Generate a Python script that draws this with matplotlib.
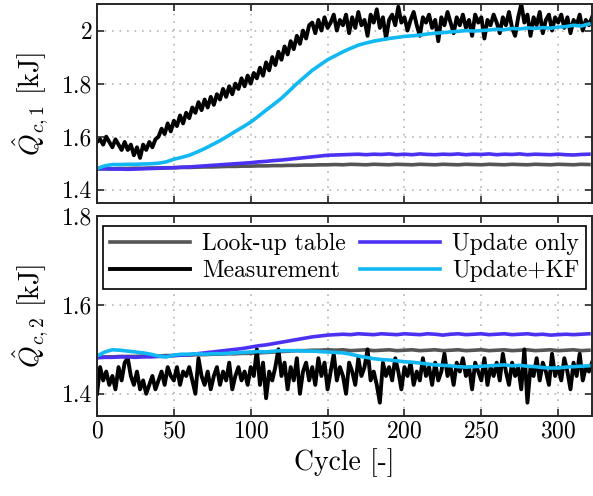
import numpy as np
import matplotlib
matplotlib.use('Agg')
import matplotlib.pyplot as plt

plt.rcParams['font.family'] = 'serif'
plt.rcParams['font.serif'] = ['cmr10']
plt.rcParams['mathtext.fontset'] = 'cm'
plt.rcParams['axes.formatter.use_mathtext'] = True

# cycles for the noisy measurement (every 2) and smooth estimates (every 5)
cyc_meas = np.arange(0, 324, 2)
cyc_est = np.arange(0, 325, 5)

# top panel, Q_c,1 [kJ]
meas1 = [1.58, 1.59, 1.57, 1.60, 1.58, 1.56, 1.59, 1.57, 1.55, 1.58,
         1.55, 1.57, 1.53, 1.56, 1.52, 1.57, 1.55, 1.58, 1.56, 1.59,
         1.60, 1.63, 1.61, 1.65, 1.62, 1.66, 1.64, 1.68, 1.65, 1.69,
         1.67, 1.71, 1.69, 1.73, 1.70, 1.74, 1.71, 1.75, 1.72, 1.76,
         1.74, 1.78, 1.75, 1.79, 1.76, 1.80, 1.78, 1.82, 1.79, 1.83,
         1.80, 1.84, 1.82, 1.86, 1.83, 1.88, 1.85, 1.90, 1.87, 1.92,
         1.89, 1.94, 1.91, 1.96, 1.93, 1.98, 1.95, 2.00, 1.97, 2.02,
         2.03, 1.99, 2.04, 2.00, 2.05, 2.01, 2.03, 2.06, 2.00, 2.04,
         2.02, 2.06, 1.99, 2.05, 2.01, 2.07, 2.02, 2.04, 1.98, 2.06,
         2.03, 2.08, 2.01, 2.05, 1.97, 2.04, 2.06, 2.02, 2.09, 2.03,
         2.05, 2.00, 2.04, 2.07, 2.02, 1.98, 2.05, 2.03, 2.06, 2.01,
         2.04, 1.96, 2.05, 2.02, 2.07, 2.03, 1.99, 2.05, 2.02, 2.06,
         2.01, 2.04, 1.98, 2.06, 2.03, 2.05, 1.97, 2.04, 2.02, 2.06,
         2.03, 1.99, 2.05, 2.02, 2.07, 2.01, 1.98, 2.05, 2.10, 2.03,
         2.06, 1.98, 2.05, 2.02, 2.07, 1.99, 2.04, 2.06, 2.00, 2.05,
         2.03, 2.06, 2.01, 2.05, 1.99, 2.04, 2.02, 2.06, 2.00, 2.04,
         2.02, 2.05]
lut1 = [1.478, 1.479, 1.479, 1.480, 1.480, 1.481, 1.481, 1.482, 1.482, 1.483,
        1.483, 1.484, 1.484, 1.485, 1.486, 1.486, 1.487, 1.488, 1.488, 1.489,
        1.489, 1.490, 1.490, 1.491, 1.491, 1.492, 1.492, 1.493, 1.493, 1.494,
        1.494, 1.495, 1.494, 1.496, 1.495, 1.494, 1.496, 1.495, 1.494, 1.496,
        1.495, 1.494, 1.496, 1.495, 1.494, 1.496, 1.495, 1.494, 1.496, 1.495,
        1.494, 1.496, 1.495, 1.494, 1.496, 1.495, 1.494, 1.496, 1.495, 1.494,
        1.496, 1.495, 1.494, 1.496, 1.495]
upd1 = [1.480, 1.479, 1.478, 1.478, 1.477, 1.478, 1.479, 1.480, 1.481, 1.482,
        1.483, 1.485, 1.486, 1.488, 1.490, 1.492, 1.494, 1.496, 1.498, 1.500,
        1.502, 1.505, 1.507, 1.510, 1.512, 1.515, 1.518, 1.521, 1.524, 1.527,
        1.530, 1.531, 1.532, 1.533, 1.534, 1.532, 1.534, 1.533, 1.535, 1.532,
        1.534, 1.532, 1.535, 1.533, 1.532, 1.534, 1.533, 1.535, 1.532, 1.534,
        1.533, 1.535, 1.532, 1.534, 1.533, 1.535, 1.532, 1.534, 1.533, 1.532,
        1.534, 1.532, 1.531, 1.533, 1.534]
kf1 = [1.480, 1.490, 1.495, 1.495, 1.496, 1.496, 1.497, 1.498, 1.500, 1.505,
       1.515, 1.522, 1.530, 1.542, 1.555, 1.570, 1.585, 1.602, 1.620, 1.637,
       1.655, 1.677, 1.700, 1.722, 1.745, 1.772, 1.800, 1.825, 1.850, 1.870,
       1.890, 1.905, 1.920, 1.933, 1.945, 1.953, 1.960, 1.965, 1.970, 1.974,
       1.978, 1.980, 1.983, 1.987, 1.990, 1.992, 1.995, 1.997, 2.000, 1.998,
       2.000, 2.002, 2.005, 2.003, 2.008, 2.006, 2.010, 2.008, 2.011, 2.009,
       2.013, 2.015, 2.020, 2.017, 2.025]

# bottom panel, Q_c,2 [kJ]
meas2 = [1.40, 1.46, 1.43, 1.45, 1.42, 1.44, 1.41, 1.46, 1.43, 1.47,
         1.48, 1.44, 1.42, 1.45, 1.41, 1.43, 1.40, 1.42, 1.44, 1.41,
         1.43, 1.45, 1.42, 1.46, 1.44, 1.43, 1.46, 1.42, 1.45, 1.44,
         1.46, 1.43, 1.40, 1.48, 1.44, 1.42, 1.45, 1.41, 1.44, 1.46,
         1.42, 1.45, 1.43, 1.47, 1.41, 1.44, 1.46, 1.43, 1.45, 1.42,
         1.46, 1.44, 1.50, 1.42, 1.47, 1.39, 1.45, 1.43, 1.46, 1.50,
         1.44, 1.47, 1.41, 1.46, 1.43, 1.48, 1.40, 1.45, 1.47, 1.43,
         1.46, 1.42, 1.48, 1.44, 1.47, 1.41, 1.45, 1.49, 1.43, 1.46,
         1.44, 1.40, 1.47, 1.45, 1.42, 1.48, 1.44, 1.46, 1.50, 1.43,
         1.45, 1.42, 1.38, 1.47, 1.44, 1.46, 1.43, 1.48, 1.45, 1.41,
         1.46, 1.44, 1.47, 1.42, 1.45, 1.43, 1.48, 1.44, 1.46, 1.42,
         1.47, 1.43, 1.45, 1.49, 1.44, 1.46, 1.42, 1.47, 1.45, 1.48,
         1.44, 1.46, 1.41, 1.47, 1.45, 1.43, 1.48, 1.42, 1.46, 1.44,
         1.47, 1.43, 1.49, 1.45, 1.42, 1.47, 1.44, 1.46, 1.41, 1.50,
         1.38, 1.46, 1.44, 1.48, 1.43, 1.47, 1.45, 1.42, 1.49, 1.44,
         1.46, 1.43, 1.48, 1.45, 1.41, 1.47, 1.44, 1.49, 1.43, 1.46,
         1.45, 1.47]
lut2 = [1.482, 1.483, 1.483, 1.484, 1.484, 1.484, 1.485, 1.485, 1.485, 1.486,
        1.486, 1.487, 1.487, 1.488, 1.488, 1.489, 1.489, 1.490, 1.490, 1.491,
        1.491, 1.492, 1.493, 1.494, 1.495, 1.496, 1.497, 1.497, 1.498, 1.498,
        1.499, 1.498, 1.499, 1.497, 1.498, 1.499, 1.497, 1.498, 1.499, 1.497,
        1.498, 1.499, 1.497, 1.498, 1.499, 1.497, 1.498, 1.499, 1.497, 1.498,
        1.499, 1.497, 1.498, 1.499, 1.497, 1.498, 1.499, 1.497, 1.498, 1.499,
        1.497, 1.498, 1.499, 1.497, 1.498]
upd2 = [1.481, 1.482, 1.482, 1.483, 1.483, 1.482, 1.483, 1.483, 1.484, 1.484,
        1.486, 1.487, 1.488, 1.490, 1.492, 1.494, 1.496, 1.498, 1.500, 1.502,
        1.505, 1.508, 1.510, 1.513, 1.516, 1.519, 1.522, 1.525, 1.528, 1.530,
        1.532, 1.533, 1.534, 1.533, 1.535, 1.534, 1.533, 1.535, 1.534, 1.533,
        1.535, 1.534, 1.533, 1.535, 1.534, 1.532, 1.534, 1.535, 1.533, 1.534,
        1.535, 1.533, 1.534, 1.535, 1.533, 1.534, 1.535, 1.533, 1.534, 1.532,
        1.533, 1.534, 1.533, 1.534, 1.535]
kf2 = [1.485, 1.494, 1.499, 1.498, 1.496, 1.494, 1.492, 1.489, 1.485, 1.483,
       1.487, 1.489, 1.489, 1.490, 1.489, 1.490, 1.490, 1.491, 1.492, 1.493,
       1.494, 1.495, 1.494, 1.496, 1.497, 1.497, 1.497, 1.496, 1.496, 1.495,
       1.494, 1.493, 1.492, 1.489, 1.485, 1.482, 1.479, 1.477, 1.476, 1.474,
       1.472, 1.471, 1.469, 1.467, 1.465, 1.464, 1.463, 1.461, 1.460, 1.461,
       1.462, 1.463, 1.464, 1.465, 1.463, 1.464, 1.462, 1.461, 1.459, 1.458,
       1.458, 1.460, 1.461, 1.462, 1.463]

c_lut = '#555555'
c_meas = 'black'
c_upd = '#4b32f2'
c_kf = '#12b8f2'
fs = 17

fig = plt.figure(figsize=(5.93, 4.96), dpi=100)
ax1 = fig.add_axes([0.1636, 0.5907, 0.8347, 0.4012])
ax2 = fig.add_axes([0.1636, 0.1613, 0.8347, 0.4032])

for ax, meas, lut, upd, kf in [(ax1, meas1, lut1, upd1, kf1),
                               (ax2, meas2, lut2, upd2, kf2)]:
    ax.plot(cyc_est, lut, color=c_lut, lw=2.6, label='Look-up table')
    ax.plot(cyc_meas, meas, color=c_meas, lw=2.8, label='Measurement')
    ax.plot(cyc_est, upd, color=c_upd, lw=2.6, label='Update only')
    ax.plot(cyc_est, kf, color=c_kf, lw=2.6, label='Update+KF')
    ax.set_xlim(0, 322)
    ax.set_xticks(np.arange(0, 301, 50))
    ax.grid(True, color='#b5b5b5', ls=(0, (1, 3.5)), lw=1.2)
    ax.tick_params(direction='in', top=True, right=True, length=5,
                   width=1.2, labelsize=fs, color='#262626')
    for sp in ax.spines.values():
        sp.set_linewidth(1.4)
        sp.set_color('#262626')

ax1.set_ylim(1.35, 2.1)
ax1.set_yticks([1.4, 1.6, 1.8, 2.0])
ax1.set_yticklabels(['1.4', '1.6', '1.8', '2'])
ax1.set_xticklabels([])
ax1.set_ylabel(r'$\hat{Q}_{c,1}$ [kJ]', fontsize=20, labelpad=8)

ax2.set_ylim(1.35, 1.8)
ax2.set_yticks([1.4, 1.6, 1.8])
ax2.set_yticklabels(['1.4', '1.6', '1.8'])
ax2.set_ylabel(r'$\hat{Q}_{c,2}$ [kJ]', fontsize=20, labelpad=8)
ax2.set_xlabel('Cycle [-]', fontsize=20, labelpad=4)

leg = ax2.legend(loc='upper center', bbox_to_anchor=(0.5, 0.95), ncol=2,
                 fontsize=fs, frameon=True, fancybox=False, framealpha=1,
                 edgecolor='black', handlelength=3.4, columnspacing=0.6,
                 handletextpad=0.5, borderpad=0.3, labelspacing=0.2,
                 borderaxespad=0)
leg.get_frame().set_linewidth(1.2)

fig.savefig('out.png', dpi=100)
